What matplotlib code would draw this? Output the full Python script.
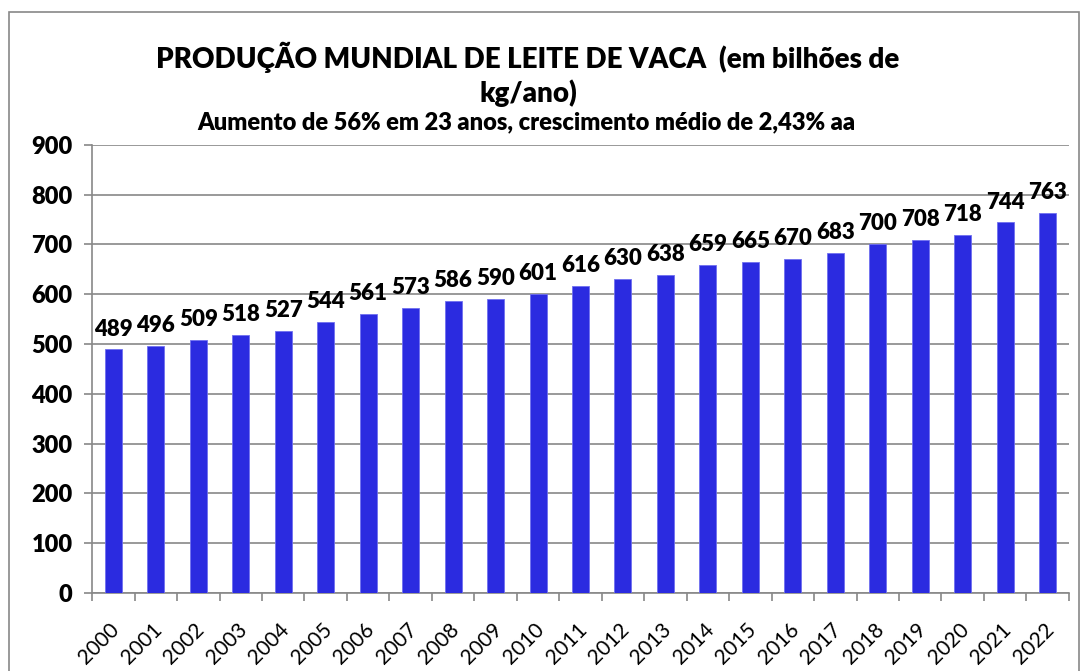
import matplotlib
matplotlib.use("Agg")
import matplotlib.pyplot as plt
from matplotlib.patches import Rectangle

anos = [str(a) for a in range(2000, 2023)]
producao = [489, 496, 509, 518, 527, 544, 561, 573, 586, 590, 601, 616,
            630, 638, 659, 665, 670, 683, 700, 708, 718, 744, 763]
y_ticks = list(range(0, 1000, 100))

plt.rcParams['font.family'] = ['Lato', 'DejaVu Sans']

fig = plt.figure(figsize=(10.84, 6.71), dpi=100)
ax = fig.add_axes([0.085, 0.1162, 0.901, 0.668])

x = list(range(len(anos)))
ax.bar(x, producao, width=0.4, color='#2B2BE0', edgecolor='#6F6FF0', linewidth=0.6, zorder=3)
# rótulos de valor acima das barras
for xi, v in zip(x, producao):
    ax.text(xi, v + 20, str(v), ha='center', va='bottom', fontsize=16, fontweight='heavy')

ax.set_xlim(-0.5, len(anos) - 0.5)
ax.set_ylim(0, 900)
ax.set_yticks(y_ticks)
ax.set_yticklabels([str(t) for t in y_ticks], fontsize=17, fontweight='heavy')
ax.set_xticks([i - 0.5 for i in x] + [len(anos) - 0.5])
ax.set_xticklabels([])
ax.tick_params(axis='x', length=6, color='#888888', width=1.2)
ax.tick_params(axis='y', length=6, color='#888888', width=1.2, pad=8)
for xi, lab in zip(x, anos):
    ax.text(xi - 0.33, -0.112, lab, transform=ax.get_xaxis_transform(), rotation=45,
            ha='center', va='center', fontsize=15, rotation_mode='anchor')
ax.grid(axis='y', color='#888888', linewidth=1.2, zorder=0)
for s in ['top', 'right']:
    ax.spines[s].set_visible(False)
ax.spines['left'].set_color('#888888')
ax.spines['bottom'].set_color('#888888')
ax.spines['left'].set_linewidth(1.2)
ax.spines['bottom'].set_linewidth(1.2)

fig.text(0.487, 0.915, 'PRODUÇÃO MUNDIAL DE LEITE DE VACA  (em bilhões de',
         ha='center', va='center', fontsize=20, fontweight='heavy')
fig.text(0.487, 0.861, 'kg/ano)', ha='center', va='center', fontsize=20, fontweight='heavy')
fig.text(0.486, 0.818, 'Aumento de 56% em 23 anos, crescimento médio de 2,43% aa',
         ha='center', va='center', fontsize=17, fontweight='heavy')

# moldura do gráfico (estilo Excel)
fig.patches.append(Rectangle((9 / 1084, -0.01), 1070 / 1084, 1 - 12 / 671 + 0.01,
                             transform=fig.transFigure, fill=False,
                             edgecolor='#888888', linewidth=1.2))

fig.savefig('out.png', dpi=100)
